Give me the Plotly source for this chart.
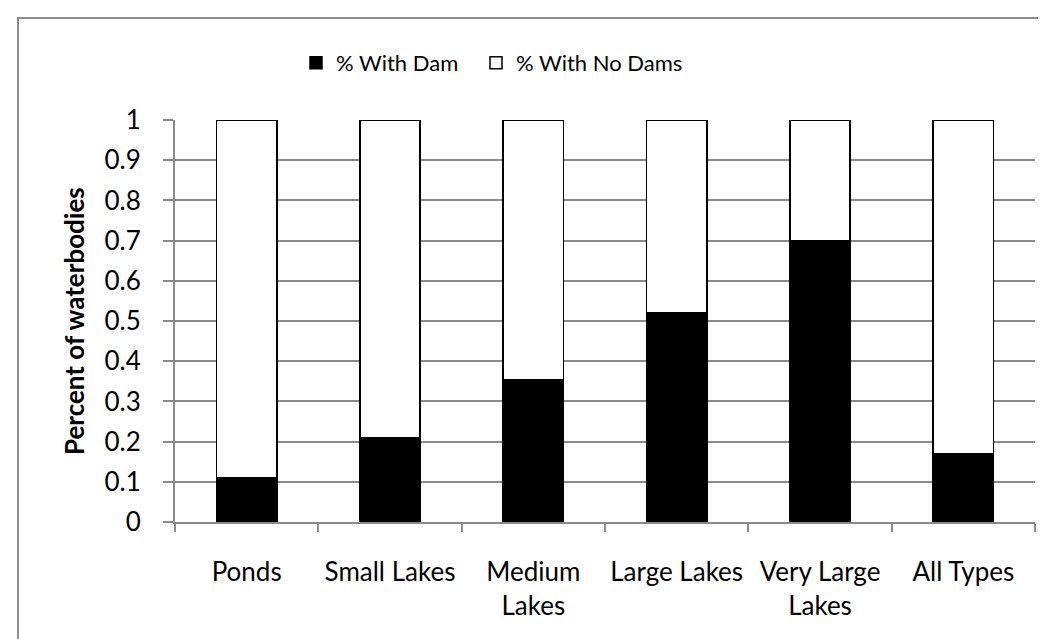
import plotly.graph_objects as go

categories = ["Ponds", "Small Lakes", "Medium<br>Lakes", "Large Lakes", "Very Large<br>Lakes", "All Types"]
with_dam = [0.11, 0.21, 0.355, 0.52, 0.70, 0.17]
no_dams = [round(1 - v, 3) for v in with_dam]
series_names = ["% With Dam", "% With No Dams"]
y_title = "Percent of waterbodies"

FONT = "Lato, Carlito, Calibri, sans-serif"
GRID = "#8a8a8a"

fig = go.Figure()
fig.add_trace(go.Bar(x=categories, y=with_dam, name=series_names[0], legend="legend",
                     marker=dict(color="black", line=dict(color="black", width=1.5))))
fig.add_trace(go.Bar(x=categories, y=no_dams, name=series_names[1], legend="legend2",
                     marker=dict(color="white", line=dict(color="black", width=1.5))))

W, H = 1046, 639
L, R, T, B = 167, 1027, 112, 514
pw, ph = R - L, B - T

legend_common = dict(orientation="h", y=(B - 55) / ph, xanchor="left", yanchor="middle",
                     font=dict(size=22), itemwidth=30, bgcolor="rgba(0,0,0,0)")

fig.update_layout(
    width=W, height=H,
    margin=dict(l=L, r=W - R, t=T, b=H - B, pad=0),
    barmode="stack", bargap=0.58,
    plot_bgcolor="white", paper_bgcolor="white",
    font=dict(family=FONT, size=26, color="black"),
    showlegend=True,
    legend=dict(x=(288 - L) / pw, **legend_common),
    legend2=dict(x=(468 - L) / pw, **legend_common),
    xaxis=dict(showline=True, linecolor=GRID, linewidth=2,
               ticks="outside", tickson="boundaries", ticklen=8, tickcolor=GRID, tickwidth=2,
               ticklabelstandoff=26, showgrid=False),
    yaxis=dict(range=[0, 1], dtick=0.1, showline=True, linecolor=GRID, linewidth=2,
               ticks="outside", ticklen=10, tickcolor=GRID, tickwidth=2,
               showgrid=True, gridcolor=GRID, gridwidth=2, zeroline=False,
               ticklabelstandoff=17),
    annotations=[dict(text="<b>" + y_title + "</b>", textangle=-90,
                      xref="paper", yref="paper", x=(66 - L) / pw, y=0.5,
                      xanchor="center", yanchor="middle", showarrow=False,
                      font=dict(size=26, family=FONT))],
    shapes=[dict(type="rect", xref="paper", yref="paper",
                 x0=(10 - L) / pw, x1=(1100 - L) / pw,
                 y0=(B - 700) / ph, y1=(B - 10) / ph,
                 line=dict(color="#8c8c8c", width=2), fillcolor="rgba(0,0,0,0)", layer="below")],
)

fig.write_html("out.html")
